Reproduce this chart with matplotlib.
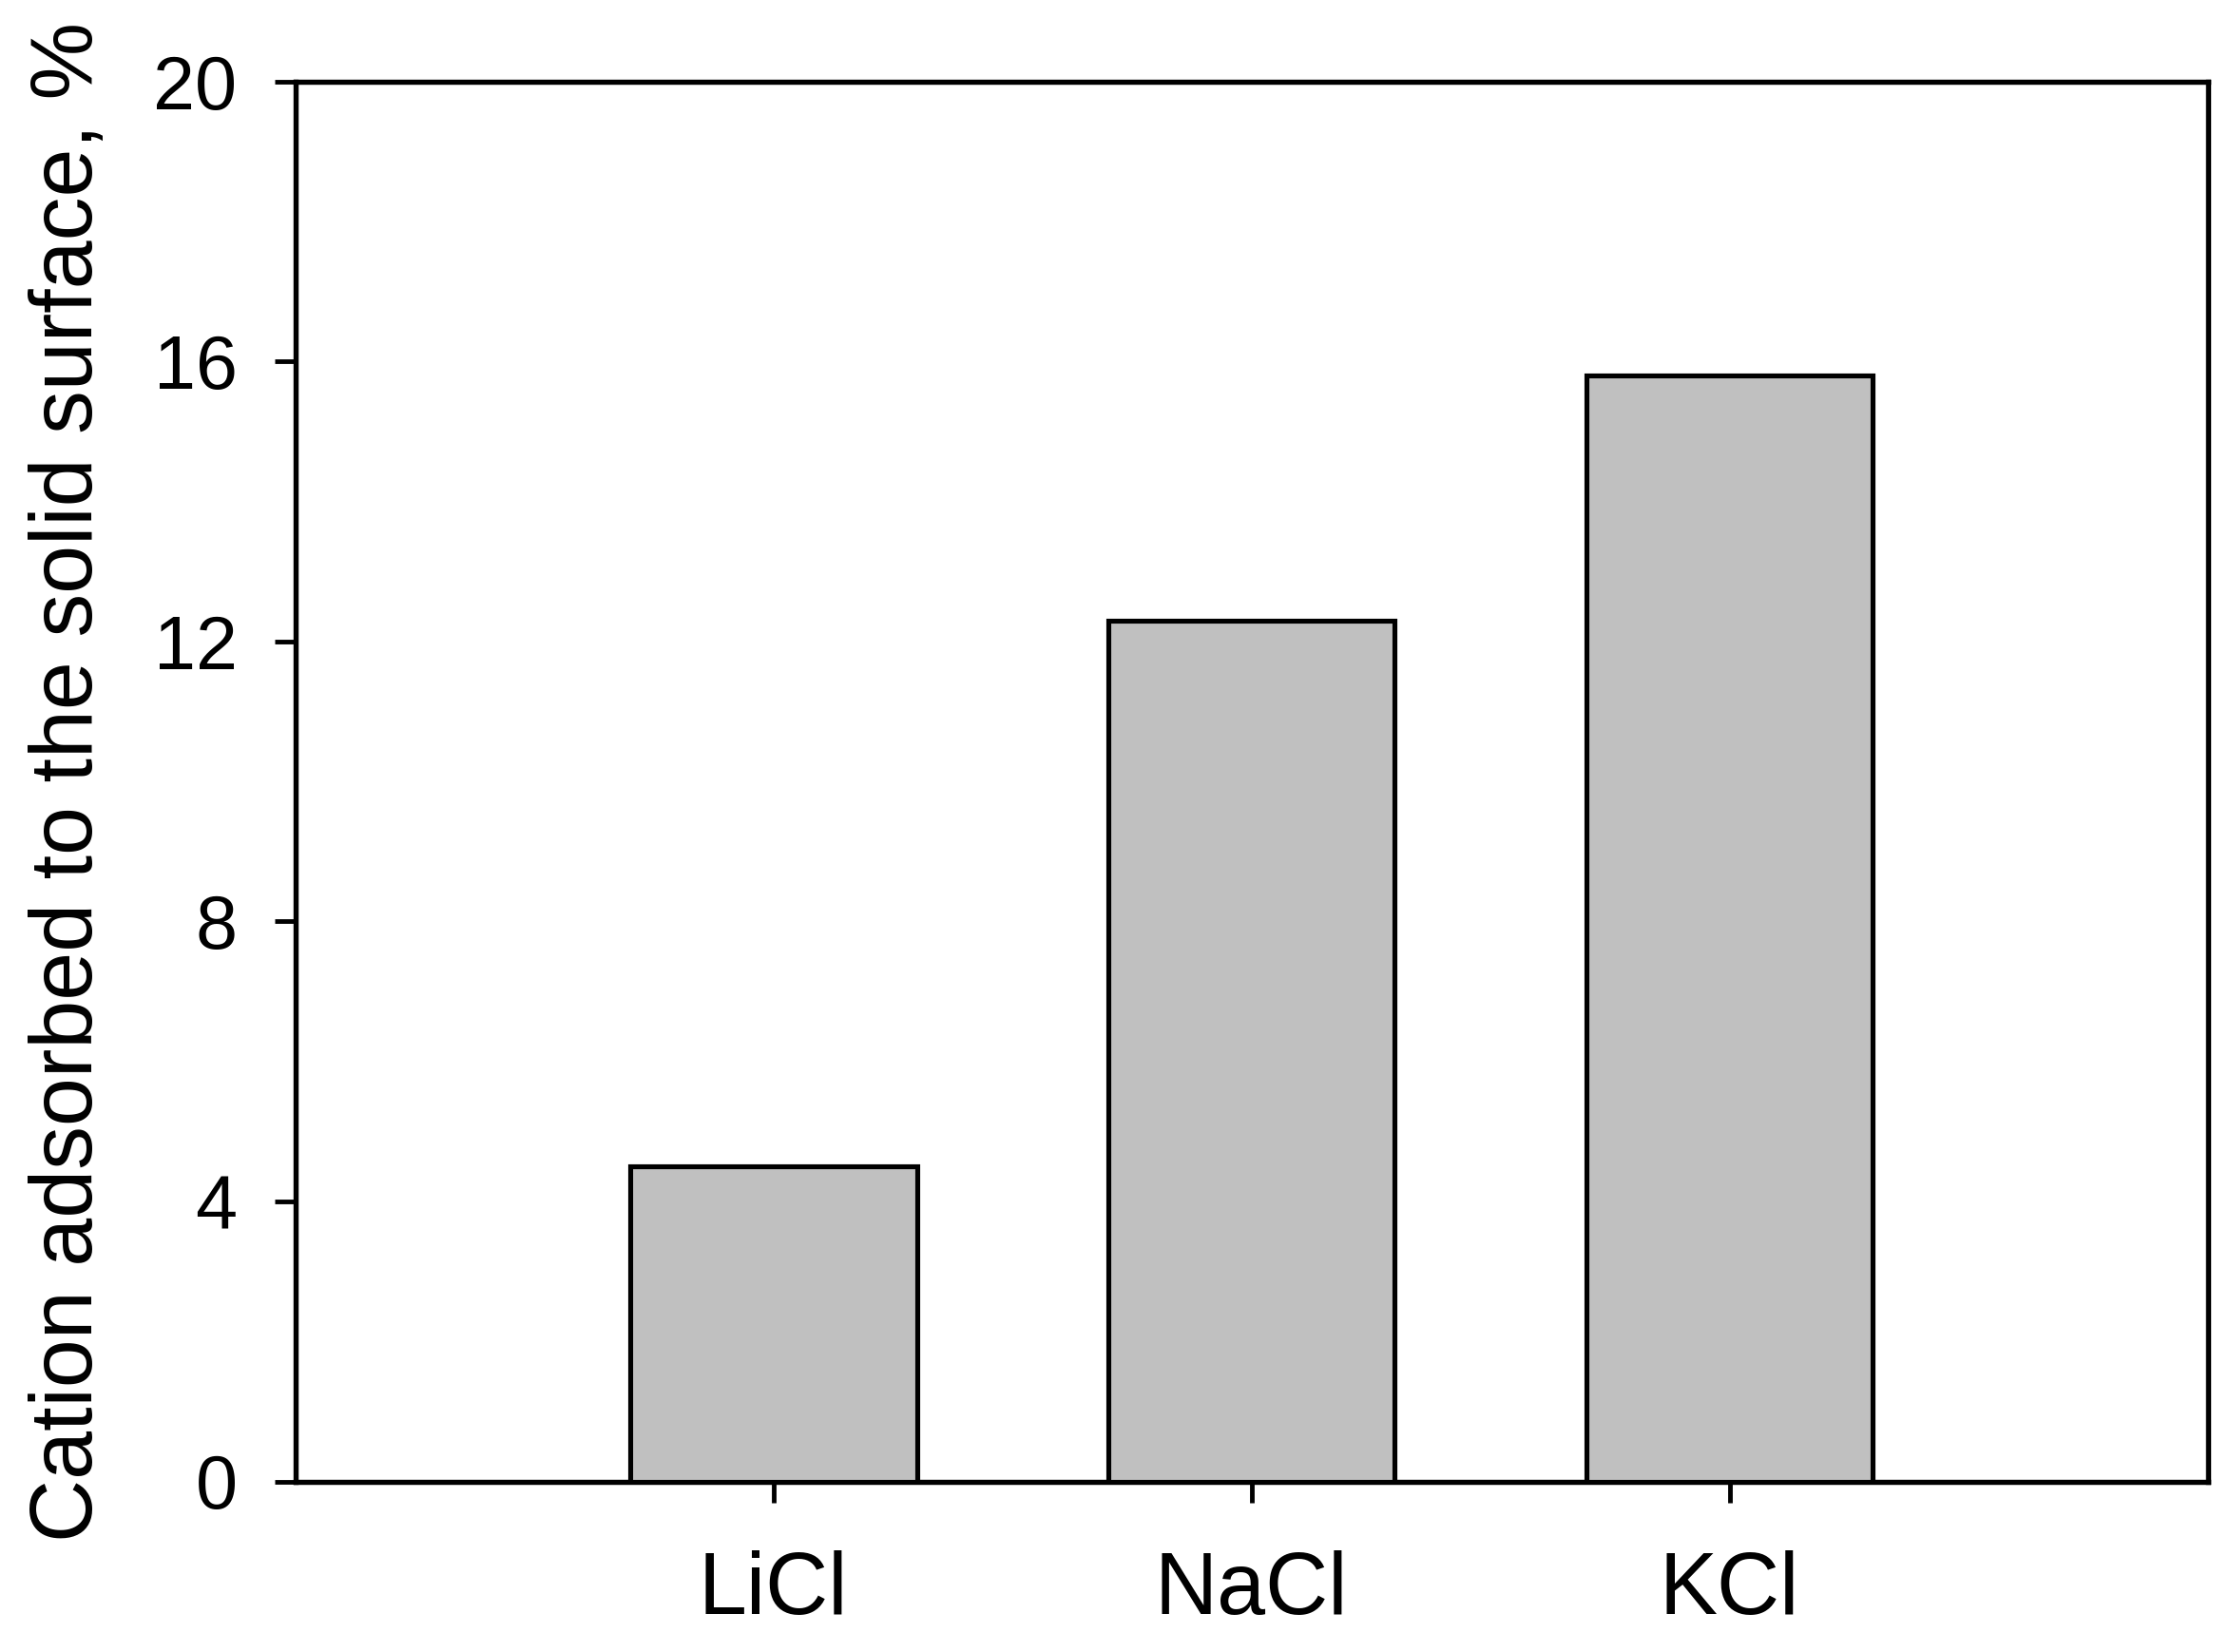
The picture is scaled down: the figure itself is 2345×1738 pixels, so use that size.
import matplotlib
matplotlib.use('Agg')
import matplotlib.pyplot as plt
import numpy as np

plt.rcParams['font.family'] = ['Liberation Sans', 'DejaVu Sans']

# data
salts = ['LiCl', 'NaCl', 'KCl']
adsorbed = [4.5, 12.3, 15.8]
y_ticks = [0, 4, 8, 12, 16, 20]

fig = plt.figure(figsize=(23.45, 17.38), dpi=100)
ax = fig.add_axes([310.7/2345, 1 - 1558.5/1738, (2322.5-310.7)/2345, (1558.5-85.5)/1738])

x = np.arange(1, len(salts) + 1)
ax.bar(x, adsorbed, width=0.6, color='#c0c0c0', edgecolor='black', linewidth=3.7, zorder=3)

ax.set_xlim(0, 4)
ax.set_ylim(0, 20)
ax.set_yticks(y_ticks)
ax.set_xticks(x)
ax.set_xticklabels(salts, fontsize=66)
ax.tick_params(axis='y', labelsize=57, direction='out', length=16, width=3.5, pad=28)
ax.tick_params(axis='x', direction='out', length=16, width=3.5, pad=36)

for s in ax.spines.values():
    s.set_linewidth(3.9)

ax.set_ylabel('Cation adsorbed to the solid surface, %', fontsize=66)
ax.yaxis.set_label_coords(-0.097, 0.5)

fig.savefig('out.png', dpi=100)
